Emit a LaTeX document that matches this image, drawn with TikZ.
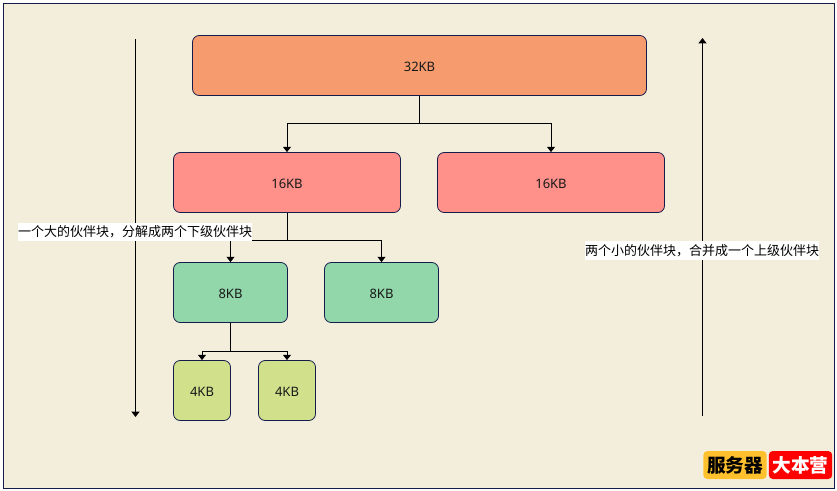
\documentclass[tikz,border=0pt]{standalone}
\usepackage{fontspec}
\setmainfont{Noto Sans}
\newfontfamily\cjk{Noto Sans CJK SC}
\usetikzlibrary{positioning,arrows.meta}
\definecolor{bgpaper}{HTML}{F3EEDC}
\definecolor{edgeblue}{HTML}{141C4C}
\definecolor{fillorange}{HTML}{F69B6E}
\definecolor{fillred}{HTML}{FF908A}
\definecolor{fillgreen}{HTML}{91D7AA}
\definecolor{filllime}{HTML}{D1E08B}
\definecolor{badgeyellow}{HTML}{FFC02E}
\tikzset{
  block/.style={draw=edgeblue,line width=0.6pt,rounded corners=5pt,minimum height=45pt,inner sep=0pt,text=black!90,text height=8.5pt,text depth=0pt,font=\fontsize{9.75}{12}\selectfont},
  note/.style={fill=white,inner sep=0pt,minimum height=14pt,font=\cjk\fontsize{9.75}{12}\selectfont},
  badge/.style={rounded corners=3pt,minimum width=47.5pt,minimum height=21pt,inner sep=0pt,font=\cjk\bfseries\fontsize{14}{16}\selectfont}
}
\begin{document}
\begin{tikzpicture}[x=0.75pt,y=-0.75pt,->,>={Triangle[length=4pt,width=6pt]},line width=0.75pt]
  \useasboundingbox (0,0) rectangle (837,490);
  \node[draw=edgeblue,fill=bgpaper,line width=0.75pt,minimum width=623.25pt,minimum height=363.75pt,inner sep=0pt] (paper) at (418.5,245.5) {};
  % blocks
  \node[block,fill=fillorange,minimum width=340.5pt] (b32) at (419.5,65.5) {32KB};
  \node[block,fill=fillred,minimum width=170.25pt] (b16l) at (287,182.5) {16KB};
  \node[block,fill=fillred,minimum width=170.25pt] (b16r) at (551,182.5) {16KB};
  \node[block,fill=fillgreen,minimum width=85.5pt] (b8l) at (230.5,292.5) {8KB};
  \node[block,fill=fillgreen,minimum width=85.5pt] (b8r) at (381.5,292.5) {8KB};
  \node[block,fill=filllime,minimum width=42.75pt] (b4l) at (202,390.5) {4KB};
  \node[block,fill=filllime,minimum width=42.75pt] (b4r) at (287,390.5) {4KB};
  % tree
  \draw (b32.south) -- ++(0,28) -| (b16l.north);
  \draw (b32.south) -- ++(0,28) -| (b16r.north);
  \draw (b16l.south) -- ++(0,28) -| (b8l.north);
  \draw (b16l.south) -- ++(0,28) -| (b8r.north);
  \draw (b8l.south) -- ++(0,29) -| (b4l.north);
  \draw (b8l.south) -- ++(0,29) -| (b4r.north);
  % long arrows
  \coordinate (downtop) at (135.5,39);
  \coordinate (downend) at (135.5,417);
  \coordinate (uptop) at (702.5,38);
  \coordinate (upend) at (702.5,416);
  \draw (downtop) -- (downend);
  \draw (upend) -- (uptop);
  \node[note,minimum width=175.5pt] (split) at (135,232) {一个大的伙伴块，分解成两个下级伙伴块};
  \node[note,minimum width=175.5pt] (merge) at (702,250.5) {两个小的伙伴块，合并成一个上级伙伴块};
  % badge
  \node[badge,fill=badgeyellow,text=black] (server) at (735,465) {服务器};
  \node[badge,fill=red,text=white] (camp) at (800.5,465) {大本营};
\end{tikzpicture}
\end{document}
